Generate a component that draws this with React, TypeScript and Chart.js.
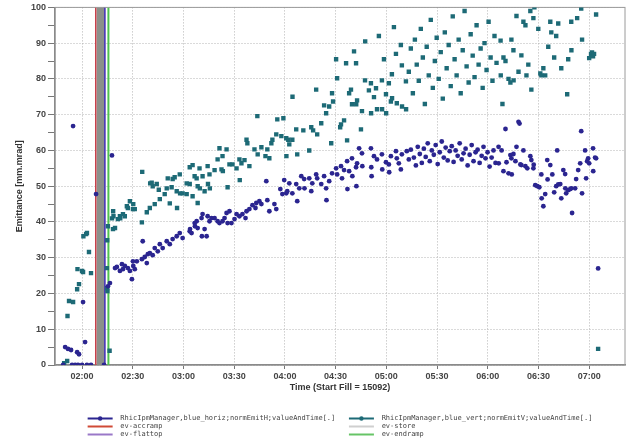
import React, { useEffect, useRef } from 'react';
import { Chart, registerables } from 'chart.js';

Chart.register(...registerables);

// time in minutes after midnight, emittance in mm.mrad
const horizSamples: [number, number][] = [
  [108.8, 0], [110.0, 5], [111.7, 4.5], [113.5, 4.2], [114.1, 0], [114.7, 66.8], [115.9, 0], [117.1, 3.6],
  [117.6, 0], [118.2, 3], [120.0, 0], [120.6, 17.6], [121.8, 6.4], [122.9, 0], [125.3, 0], [128.3, 47.8],
  [133.0, 0], [135.3, 22], [136.5, 22.9], [137.7, 58.6],
  [139.5, 27.1], [140.6, 27.4], [142.4, 26.3], [143.6, 28.2], [144.2, 26.8], [145.3, 27.7], [147.1, 27.1],
  [148.3, 26.3], [149.5, 24], [150.1, 29], [150.3, 27.7], [151.2, 26.8], [152.4, 29], [155.4, 29.6],
  [155.9, 34.6], [157.1, 30.2], [158.3, 28.5], [158.9, 31], [160.1, 31.3], [161.8, 30.7], [163.0, 32.7],
  [164.8, 31.8], [166.0, 33.8], [167.7, 32.7], [170.1, 34.6], [171.9, 33.8], [173.6, 35.2], [176.0, 36],
  [177.8, 36.9], [179.5, 35.5], [183.7, 37.4], [186.6, 39.7],
  [183.9, 38], [184.8, 36.9], [186.8, 38.8], [187.8, 40.2], [188.4, 38.3], [190.7, 41.1], [190.9, 36],
  [191.3, 42.2], [192.5, 38], [193.7, 36], [194.3, 41.6], [195.4, 40.2], [196.6, 41.1], [198.4, 41.1],
  [200.2, 40.2], [201.3, 39.7], [203.1, 40.2], [204.3, 41.1], [205.5, 42.5], [206.1, 39.7], [207.2, 43],
  [208.4, 39.7], [210.2, 40.8], [211.4, 42.2], [213.1, 41.6], [214.9, 42.2], [216.7, 41.1], [217.3, 43],
  [219.0, 43.6], [220.8, 44.7], [222.6, 43.9], [223.1, 45.3], [224.9, 45.8], [226.1, 45], [229.0, 51.4],
  [229.6, 46.1], [230.8, 43], [233.8, 45], [234.9, 43.6], [237.3, 49.2], [238.5, 47.8], [239.6, 51.7],
  [240.8, 48], [241.4, 48.6], [242.6, 50.8], [244.4, 48], [246.7, 50.6], [247.3, 45.8], [248.5, 49.4],
  [249.7, 52.8], [251.4, 52], [251.6, 49.4], [254.4, 52.2], [255.6, 48.6], [256.2, 50.8], [258.5, 53.3],
  [259.1, 52.2], [261.5, 50.6], [263.2, 52.8], [264.4, 49.4], [264.6, 46.1], [266.2, 51.4], [267.9, 53.6],
  [270.3, 55], [270.9, 53.3], [273.2, 55.6], [273.8, 52.2], [275.0, 54.5], [276.8, 57], [277.0, 49.2],
  [278.0, 54.2], [279.7, 57.8], [279.9, 52.8], [282.1, 55.3], [282.3, 50], [282.7, 56.4], [283.9, 60.6],
  [285.6, 59.2], [285.8, 55.6], [290.9, 60.6], [291.1, 55.3], [291.3, 52.8], [292.7, 58.4], [294.5, 57.5],
  [297.4, 58.9], [297.6, 54.7], [299.8, 56.7], [301.5, 56.1], [301.7, 53.9], [302.7, 58.4], [305.7, 59.8],
  [306.2, 57.8], [307.4, 56.4], [308.6, 54.7], [309.2, 58.9], [312.1, 59.8],
  [313.3, 57.5], [314.5, 60.2], [316.3, 58], [317.5, 55.8], [318.6, 61], [319.8, 59], [321.0, 56.5],
  [322.2, 60.5], [323.3, 58.2], [324.5, 62], [325.7, 57], [326.9, 60], [328.1, 58.8], [329.2, 61.5],
  [330.4, 56.2], [331.6, 59.5], [332.8, 62.5], [334.0, 58], [335.1, 60.8], [336.3, 57.2], [337.5, 59.8],
  [338.7, 61.2], [339.8, 56.8], [341.0, 60], [342.2, 58.5], [343.4, 62], [344.6, 57.5], [345.7, 59.2],
  [346.9, 60.5], [348.1, 55.8], [349.3, 58.8], [350.5, 61.5], [351.6, 57], [352.8, 59.5], [354.0, 60.2],
  [355.2, 56.5], [356.4, 58.5], [357.5, 61], [358.7, 57.8], [359.9, 59.5], [361.1, 55.5], [362.3, 58],
  [363.4, 60], [364.6, 56.5],
  [366.4, 61], [366.5, 56.4], [368.2, 60], [369.3, 54.2], [370.5, 66], [371.1, 56.7], [372.3, 53.6],
  [373.4, 58.7], [374.0, 57.8], [374.2, 53.3], [375.2, 59], [376.4, 57], [377.0, 61], [378.2, 68],
  [378.8, 67.5], [379.3, 56.1], [379.9, 55.9], [381.1, 60], [382.3, 55.6], [383.4, 55], [385.2, 58.4],
  [385.8, 57.3], [387.0, 55], [387.2, 56], [388.1, 50.3], [389.3, 50], [390.5, 49.7], [391.7, 53.3],
  [391.9, 46.6], [392.9, 44.4], [394.0, 47.8], [395.2, 57.3], [395.4, 51.9], [397.0, 55.9], [398.2, 53.3],
  [399.3, 48.3], [400.5, 50], [401.1, 60], [401.7, 50.5], [402.9, 50.6], [403.5, 46.6], [404.7, 54.5],
  [405.8, 53.4], [405.9, 49.4], [406.4, 48], [407.6, 48.9], [408.8, 49.2], [409.4, 49.4], [409.9, 42.5],
  [411.7, 49.4], [412.3, 52], [413.5, 54.5], [414.7, 56.4], [415.3, 65.4], [415.8, 48], [417.6, 60],
  [418.2, 52.2], [418.8, 57], [419.4, 57.8], [420.0, 56.4], [422.3, 60.6], [422.4, 54.2], [423.5, 58],
  [424.1, 57.8], [425.3, 27],
];

const vertSamples: [number, number][] = [
  [109.4, 0.5], [111.2, 1.1], [111.4, 13.7], [112.3, 17.9], [114.7, 17.6], [117.1, 21.2], [118.2, 22.6],
  [117.3, 26.8], [120.0, 26.3], [120.6, 26], [125.3, 25.7], [124.1, 31.6], [120.8, 36], [122.4, 36.6],
  [122.9, 36.9],
  [134.7, 27.1], [134.8, 21.5], [135.0, 20.7], [134.9, 34.9], [135.3, 38.8], [136.3, 4], [138.3, 38],
  [137.7, 41], [138.4, 43], [138.6, 41.6], [139.5, 38.3], [141.2, 40.8], [142.4, 41.6], [142.6, 41],
  [144.2, 42.2], [145.3, 41.6], [146.5, 44.4], [147.1, 43.9], [148.3, 45.8], [150.1, 43.6], [150.3, 45],
  [151.2, 43.6], [155.4, 39.9], [155.6, 54], [158.3, 42.7], [160.1, 43.9], [160.3, 50.8], [161.2, 51],
  [161.8, 50], [163.0, 45], [164.2, 50.6], [165.4, 49], [166.0, 46.4], [168.9, 47.8], [170.1, 49.4],
  [170.7, 52.2], [171.9, 45.2], [173.0, 49.7], [173.6, 52], [174.8, 52.5], [176.0, 48.6], [176.2, 43.9],
  [177.8, 53.3], [178.0, 48], [179.5, 48], [181.9, 50.8], [181.9, 47.8], [183.7, 55.3], [185.4, 55.9],
  [186.6, 52.8], [188.4, 50],
  [183.7, 50.6], [185.4, 47.2], [187.8, 52.2], [188.4, 45.3], [189.5, 55], [189.7, 49.4], [191.3, 52.8],
  [192.5, 48.6], [194.3, 55.6], [194.5, 50.6], [195.4, 53.3], [195.6, 49.4], [198.4, 54.5], [200.2, 57.5],
  [201.3, 60.6], [202.5, 54.7], [203.1, 58.4], [203.3, 54.2], [205.5, 60.3], [206.1, 49.7], [207.2, 56.1],
  [209.0, 56.1], [211.4, 55], [213.1, 57.5], [213.3, 51.7], [214.3, 56.4], [216.1, 57.3], [217.3, 63],
  [217.8, 62], [219.0, 55.6], [222.0, 60.3], [223.7, 69.6], [223.9, 58.9], [226.1, 60.9], [228.5, 58.4],
  [229.6, 60.3], [230.8, 57.8], [232.0, 62], [232.6, 63], [234.9, 64.5], [235.5, 68.7], [237.9, 64],
  [239.1, 69], [240.8, 63.4], [240.9, 58.4], [242.0, 63], [242.6, 61.7], [244.4, 63], [244.5, 75],
  [246.7, 65.9], [247.3, 58.9], [250.9, 65.6], [254.4, 60], [255.6, 66.5], [256.7, 65.6], [258.5, 77],
  [259.1, 64.5], [261.5, 67.6], [263.2, 72.6], [264.4, 70.4], [266.2, 72.3], [267.4, 62], [267.9, 76],
  [268.5, 73.7], [270.3, 85.5], [270.9, 80.2], [272.7, 66.5], [273.2, 67.3], [275.0, 68.4], [276.2, 84.4],
  [276.8, 62.8], [278.0, 76], [279.1, 77], [279.7, 72.9], [280.9, 87.7], [282.1, 84.4], [282.2, 72.9],
  [282.7, 74], [285.0, 65.9], [285.6, 71], [287.4, 79.6], [287.5, 90.5], [289.7, 76.8], [290.9, 78.8],
  [291.0, 70.4], [292.7, 74.9], [293.9, 77.4], [294.5, 71.5], [295.6, 92], [297.4, 79.6], [297.5, 71.5],
  [298.6, 85.5], [299.8, 75.7], [299.9, 70.4], [301.5, 78.8], [302.7, 73.7], [303.3, 81.3], [303.4, 74.6],
  [304.5, 94.5], [305.7, 87], [306.2, 73.2], [308.6, 89.5], [309.2, 83.8], [309.3, 72.3], [311.6, 79.3],
  [311.7, 71.5],
  [313.3, 82], [314.5, 88.5], [315.7, 76], [316.9, 91], [318.0, 84], [319.2, 79.5], [320.4, 94], [321.6, 86],
  [322.8, 73], [323.9, 89], [325.1, 81], [326.3, 96.5], [327.5, 77.5], [328.7, 85], [329.8, 91.5],
  [331.0, 80], [332.2, 87.5], [333.4, 74.5], [334.6, 93], [335.7, 83], [336.9, 89.5], [338.1, 78],
  [339.3, 97.5], [340.4, 85.5], [341.6, 81], [342.8, 91], [344.0, 76], [345.2, 88], [346.3, 99],
  [347.5, 83.5], [348.7, 79], [349.9, 92.5], [351.1, 86.5], [352.2, 80.5], [353.4, 95], [354.6, 84],
  [355.8, 88.5], [357.0, 77.5], [358.1, 90], [359.3, 82.5], [360.5, 96], [361.7, 86], [362.8, 79.5],
  [364.0, 92], [365.2, 84.5],
  [367.6, 90.7], [367.7, 81], [368.7, 73], [369.3, 86], [370.5, 85], [372.3, 80], [373.4, 79], [374.0, 91],
  [375.2, 88], [375.3, 79.6], [377.0, 97.6], [378.2, 82], [379.9, 86.6], [381.1, 96], [382.3, 95],
  [382.9, 81], [384.0, 84], [385.2, 99], [385.8, 77], [387.0, 97], [387.6, 100], [389.9, 94], [391.1, 81.5],
  [391.7, 81], [392.9, 83], [394.0, 81], [395.8, 89], [397.0, 96], [397.6, 93], [399.3, 86], [400.5, 92],
  [401.7, 95.5], [403.5, 83], [407.0, 75.7], [407.6, 85.5], [409.4, 96], [409.5, 88], [412.9, 97],
  [415.3, 99.7], [415.8, 91], [420.0, 85.8], [421.1, 87], [421.7, 87.4], [422.3, 86.3], [422.9, 87],
  [424.1, 98], [425.3, 4.5],
];

const seriesNames = [
  'RhicIpmManager,blue_horiz;normEmitH;valueAndTime[.]',
  'RhicIpmManager,blue_vert;normEmitV;valueAndTime[.]',
];
const eventNames = ['ev-accramp', 'ev-store', 'ev-flattop', 'ev-endramp'];
const eventTimes = [128.1, 130.8, 133.4, 135.6];
const xTickMinutes = [120, 150, 180, 210, 240, 270, 300, 330, 360, 390, 420];

const seriesColors = ['#2b2590', '#1d6a76'];
const eventColors = ['#c8404a', '#8b908a', '#4a38b8', '#4fc34f'];
const eventWidths = [1.5, 7.5, 2, 2];
const legendColors = ['#2b2590', '#1d6a76', '#d04a36', '#cfcfcf', '#9a78c8', '#66c466'];

const fmt = (m: number) => {
  const h = Math.floor(m / 60);
  const mm = Math.round(m - h * 60);
  return `${String(h).padStart(2, '0')}:${String(mm).padStart(2, '0')}`;
};

const frame = {
  id: 'frame',
  beforeDatasetsDraw(chart: any) {
    const { ctx, chartArea } = chart;
    ctx.save();
    ctx.strokeStyle = '#9a9a9a';
    ctx.lineWidth = 1;
    ctx.strokeRect(chartArea.left, chartArea.top, chartArea.right - chartArea.left, chartArea.bottom - chartArea.top);
    ctx.restore();
  },
};

const legendMarkers = {
  id: 'legendMarkers',
  afterDraw(chart: any) {
    const lg = chart.legend;
    if (!lg || !lg.legendHitBoxes) return;
    const ctx = chart.ctx;
    lg.legendItems.forEach((item: any, i: number) => {
      const idx = item.datasetIndex;
      if (idx > 1) return;
      const hb = lg.legendHitBoxes[i];
      if (!hb) return;
      ctx.save();
      ctx.fillStyle = seriesColors[idx];
      ctx.beginPath();
      ctx.arc(hb.left + 12.5, hb.top + hb.height / 2, 2.2, 0, Math.PI * 2);
      ctx.fill();
      ctx.restore();
    });
  },
};

export default function App() {
  const ref = useRef<HTMLCanvasElement | null>(null);
  useEffect(() => {
    if (!ref.current) return;
    const tickFont = { family: 'Liberation Sans', size: 9, weight: 'bold' as const };
    const chart = new Chart(ref.current, {
      type: 'scatter',
      data: {
        datasets: [
          {
            label: seriesNames[0],
            data: horizSamples.map(([t, v]) => ({ x: t, y: v })),
            backgroundColor: seriesColors[0],
            borderColor: seriesColors[0],
            pointStyle: 'circle',
            pointRadius: 2.4,
            pointBorderWidth: 0,
            showLine: false,
            order: 0,
          },
          {
            label: seriesNames[1],
            data: vertSamples.map(([t, v]) => ({ x: t, y: v })),
            backgroundColor: seriesColors[1],
            borderColor: seriesColors[1],
            pointStyle: 'rect',
            pointRadius: 3.1,
            pointBorderWidth: 0,
            showLine: false,
            order: 0,
          },
          ...eventNames.map((n, i) => ({
            label: n,
            data: [
              { x: eventTimes[i], y: 0 },
              { x: eventTimes[i], y: 100 },
            ],
            borderColor: eventColors[i],
            backgroundColor: eventColors[i],
            borderWidth: eventWidths[i],
            pointRadius: 0,
            showLine: true,
            order: 1,
          })),
        ],
      },
      options: {
        animation: false,
        responsive: true,
        maintainAspectRatio: false,
        layout: { padding: { top: 1, right: 2, bottom: 0, left: 0 } },
        scales: {
          x: {
            type: 'linear',
            min: 104,
            max: 441.2,
            afterBuildTicks: (s: any) => {
              s.ticks = xTickMinutes.map((v) => ({ value: v }));
            },
            afterFit: (s: any) => {
              s.height = 49;
            },
            ticks: {
              callback: (v: any) => fmt(Number(v)),
              font: tickFont,
              color: '#444',
              padding: 2,
              maxRotation: 0,
              autoSkip: false,
            },
            grid: { color: '#b4b4b4', tickColor: '#777', tickLength: 4 },
            border: { color: '#7a7a7a', width: 1.5, dash: [1, 2] },
            title: {
              display: true,
              text: 'Time (Start Fill = 15092)',
              font: { family: 'Liberation Sans', size: 9, weight: 'bold' },
              color: '#333',
              padding: { top: 0, bottom: 21 },
            },
          },
          y: {
            min: 0,
            max: 100,
            afterFit: (s: any) => {
              s.width = 55;
            },
            ticks: {
              stepSize: 5,
              autoSkip: false,
              callback: (v: any) => (Number(v) % 10 === 0 ? String(v) : ''),
              font: tickFont,
              color: '#444',
              padding: 2,
            },
            grid: {
              color: (c: any) => (c.tick && c.tick.value % 10 === 0 ? '#b4b4b4' : 'rgba(0,0,0,0)'),
              tickColor: '#777',
              tickLength: 7,
            },
            border: { color: '#7a7a7a', width: 1.5, dash: [1, 2] },
            title: {
              display: true,
              text: 'Emittance [mm.mrad]',
              font: { family: 'Liberation Sans', size: 9, weight: 'bold' },
              color: '#333',
              padding: { top: 14.6, bottom: 0 },
            },
          },
        },
        plugins: {
          tooltip: { enabled: false },
          legend: {
            position: 'bottom',
            fullSize: false,
            maxHeight: 27,
            labels: {
              boxWidth: 25,
              boxHeight: 2,
              padding: 1,
              color: '#444',
              font: { family: 'DejaVu Sans Mono', size: 7 },
              generateLabels: (ch: any) => {
                const items = (Chart.defaults.plugins.legend.labels as any).generateLabels(ch);
                const names = [...seriesNames, ...eventNames];
                return items.map((it: any) => {
                  const idx = it.datasetIndex;
                  const text = (' ' + names[idx]).padEnd(idx % 2 === 0 ? 55 : 51, ' ');
                  return {
                    ...it,
                    text,
                    fillStyle: legendColors[idx],
                    strokeStyle: legendColors[idx],
                    lineWidth: 0,
                  };
                });
              },
            },
          },
        },
      },
      plugins: [frame, legendMarkers],
    } as any);
    return () => chart.destroy();
  }, []);
  return (
    <div style={{ position: 'absolute', left: 0, top: 0, width: 629, height: 441, background: '#fff' }}>
      <canvas ref={ref} />
    </div>
  );
}
